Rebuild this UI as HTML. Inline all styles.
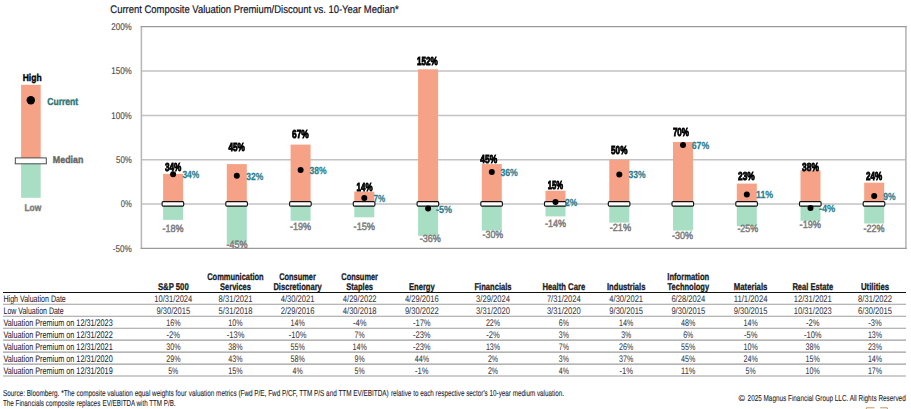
<!DOCTYPE html>
<html><head><meta charset="utf-8"><title>Composite Valuation</title>
<style>
html,body{margin:0;padding:0;background:#fff;}
body{width:911px;height:409px;overflow:hidden;font-family:"Liberation Sans",sans-serif;}
svg{display:block;font-family:"Liberation Sans",sans-serif;text-rendering:geometricPrecision;}
.ov{position:absolute;left:0;top:0;will-change:transform;}
</style></head><body>
<svg width="911" height="409" viewBox="0 0 911 409">
<rect x="0" y="0" width="911" height="409" fill="#fff"/>
<text x="110.3" y="12.9" font-size="11.0" fill="#16162a" textLength="288.3" lengthAdjust="spacingAndGlyphs" stroke="#16162a" stroke-width="0.2">Current Composite Valuation Premium/Discount vs. 10-Year Median*</text>
<line x1="141.6" x2="906" y1="71.1" y2="71.1" stroke="#c2c2c2" stroke-width="1.5"/>
<line x1="141.6" x2="906" y1="115.4" y2="115.4" stroke="#c2c2c2" stroke-width="1.5"/>
<line x1="141.6" x2="906" y1="159.7" y2="159.7" stroke="#c2c2c2" stroke-width="1.5"/>
<line x1="141.6" x2="906" y1="204.0" y2="204.0" stroke="#c2c2c2" stroke-width="1.5"/>
<line x1="141.4" x2="141.4" y1="26" y2="249" stroke="#b6b6b6" stroke-width="1.5"/>
<line x1="905.9" x2="905.9" y1="26" y2="249" stroke="#b6b6b6" stroke-width="1.6"/>
<line x1="140.7" x2="906.7" y1="26.55" y2="26.55" stroke="#9a9a9a" stroke-width="1.25"/>
<line x1="140.7" x2="906.7" y1="248.3" y2="248.3" stroke="#9a9a9a" stroke-width="1.25"/>
<text x="111.2" y="30.1" font-size="9.8" fill="#505050" textLength="20.6" lengthAdjust="spacingAndGlyphs" stroke="#505050" stroke-width="0.15">200%</text>
<text x="111.2" y="74.4" font-size="9.8" fill="#505050" textLength="20.6" lengthAdjust="spacingAndGlyphs" stroke="#505050" stroke-width="0.15">150%</text>
<text x="111.2" y="118.7" font-size="9.8" fill="#505050" textLength="20.6" lengthAdjust="spacingAndGlyphs" stroke="#505050" stroke-width="0.15">100%</text>
<text x="116.0" y="163.0" font-size="9.8" fill="#505050" textLength="15.8" lengthAdjust="spacingAndGlyphs" stroke="#505050" stroke-width="0.15">50%</text>
<text x="120.8" y="207.3" font-size="9.8" fill="#505050" textLength="11.0" lengthAdjust="spacingAndGlyphs" stroke="#505050" stroke-width="0.15">0%</text>
<text x="112.8" y="251.6" font-size="9.8" fill="#505050" textLength="19.0" lengthAdjust="spacingAndGlyphs" stroke="#505050" stroke-width="0.15">-50%</text>
<rect x="21.1" y="84.8" width="19.6" height="76" fill="#f5a286"/>
<rect x="21.1" y="160.8" width="19.6" height="37" fill="#a8dfc4"/>
<rect x="15.3" y="157.9" width="31" height="5.9" fill="#fff" stroke="#4a4a4a" stroke-width="1"/>
<circle cx="30.8" cy="100.3" r="4.2" fill="#000"/>
<text x="22.7" y="80.9" font-size="10.0" fill="#000" font-weight="bold" textLength="18.9" lengthAdjust="spacingAndGlyphs" stroke="#000" stroke-width="0.4">High</text>
<text x="47.3" y="104.6" font-size="10.2" fill="#2d7572" font-weight="bold" textLength="30.9" lengthAdjust="spacingAndGlyphs" stroke="#2d7572" stroke-width="0.4">Current</text>
<text x="52.8" y="163.4" font-size="10.0" fill="#666" font-weight="bold" textLength="30.6" lengthAdjust="spacingAndGlyphs" stroke="#666" stroke-width="0.4">Median</text>
<text x="24.4" y="210.8" font-size="10.0" fill="#7a7a7a" font-weight="bold" textLength="16.8" lengthAdjust="spacingAndGlyphs" stroke="#7a7a7a" stroke-width="0.4">Low</text>
<rect x="163.1" y="173.9" width="20.0" height="30.1" fill="#f5a286"/>
<rect x="163.1" y="204.0" width="20.0" height="15.9" fill="#a8dfc4"/>
<rect x="226.8" y="164.1" width="20.0" height="39.9" fill="#f5a286"/>
<rect x="226.8" y="204.0" width="20.0" height="39.9" fill="#a8dfc4"/>
<rect x="290.6" y="144.6" width="20.0" height="59.4" fill="#f5a286"/>
<rect x="290.6" y="204.0" width="20.0" height="16.8" fill="#a8dfc4"/>
<rect x="354.3" y="191.6" width="20.0" height="12.4" fill="#f5a286"/>
<rect x="354.3" y="204.0" width="20.0" height="13.3" fill="#a8dfc4"/>
<rect x="418.1" y="69.3" width="20.0" height="134.7" fill="#f5a286"/>
<rect x="418.1" y="204.0" width="20.0" height="31.9" fill="#a8dfc4"/>
<rect x="481.8" y="164.1" width="20.0" height="39.9" fill="#f5a286"/>
<rect x="481.8" y="204.0" width="20.0" height="26.6" fill="#a8dfc4"/>
<rect x="545.5" y="190.7" width="20.0" height="13.3" fill="#f5a286"/>
<rect x="545.5" y="204.0" width="20.0" height="12.4" fill="#a8dfc4"/>
<rect x="609.3" y="159.7" width="20.0" height="44.3" fill="#f5a286"/>
<rect x="609.3" y="204.0" width="20.0" height="18.6" fill="#a8dfc4"/>
<rect x="673.0" y="142.0" width="20.0" height="62.0" fill="#f5a286"/>
<rect x="673.0" y="204.0" width="20.0" height="26.6" fill="#a8dfc4"/>
<rect x="736.8" y="183.6" width="20.0" height="20.4" fill="#f5a286"/>
<rect x="736.8" y="204.0" width="20.0" height="22.2" fill="#a8dfc4"/>
<rect x="800.5" y="170.3" width="20.0" height="33.7" fill="#f5a286"/>
<rect x="800.5" y="204.0" width="20.0" height="16.8" fill="#a8dfc4"/>
<rect x="864.2" y="182.7" width="20.0" height="21.3" fill="#f5a286"/>
<rect x="864.2" y="204.0" width="20.0" height="19.5" fill="#a8dfc4"/>
<text x="162.5" y="232.0" font-size="10.4" fill="#7e7e7e" textLength="21.0" lengthAdjust="spacingAndGlyphs" stroke="#7e7e7e" stroke-width="0.5">-18%</text>
<text x="226.6" y="248.0" font-size="10.4" fill="#7e7e7e" textLength="21.0" lengthAdjust="spacingAndGlyphs" stroke="#7e7e7e" stroke-width="0.5">-45%</text>
<text x="290.0" y="230.0" font-size="10.4" fill="#7e7e7e" textLength="21.1" lengthAdjust="spacingAndGlyphs" stroke="#7e7e7e" stroke-width="0.5">-19%</text>
<text x="353.6" y="230.0" font-size="10.4" fill="#7e7e7e" textLength="21.4" lengthAdjust="spacingAndGlyphs" stroke="#7e7e7e" stroke-width="0.5">-15%</text>
<text x="419.7" y="242.0" font-size="10.4" fill="#7e7e7e" textLength="21.0" lengthAdjust="spacingAndGlyphs" stroke="#7e7e7e" stroke-width="0.5">-36%</text>
<text x="482.6" y="238.0" font-size="10.4" fill="#7e7e7e" textLength="20.5" lengthAdjust="spacingAndGlyphs" stroke="#7e7e7e" stroke-width="0.5">-30%</text>
<text x="545.0" y="227.0" font-size="10.4" fill="#7e7e7e" textLength="21.0" lengthAdjust="spacingAndGlyphs" stroke="#7e7e7e" stroke-width="0.5">-14%</text>
<text x="609.7" y="231.0" font-size="10.4" fill="#7e7e7e" textLength="21.4" lengthAdjust="spacingAndGlyphs" stroke="#7e7e7e" stroke-width="0.5">-21%</text>
<text x="672.1" y="239.0" font-size="10.4" fill="#7e7e7e" textLength="21.0" lengthAdjust="spacingAndGlyphs" stroke="#7e7e7e" stroke-width="0.5">-30%</text>
<text x="737.4" y="232.0" font-size="10.4" fill="#7e7e7e" textLength="20.7" lengthAdjust="spacingAndGlyphs" stroke="#7e7e7e" stroke-width="0.5">-25%</text>
<text x="799.6" y="228.0" font-size="10.4" fill="#7e7e7e" textLength="21.4" lengthAdjust="spacingAndGlyphs" stroke="#7e7e7e" stroke-width="0.5">-19%</text>
<text x="863.6" y="232.0" font-size="10.4" fill="#7e7e7e" textLength="21.0" lengthAdjust="spacingAndGlyphs" stroke="#7e7e7e" stroke-width="0.5">-22%</text>
<rect x="162.1" y="201.6" width="21.6" height="4.5" rx="1.1" ry="1.1" fill="#fff" stroke="#111" stroke-width="1.15"/>
<rect x="225.8" y="201.6" width="21.6" height="4.5" rx="1.1" ry="1.1" fill="#fff" stroke="#111" stroke-width="1.15"/>
<rect x="289.6" y="201.6" width="21.6" height="4.5" rx="1.1" ry="1.1" fill="#fff" stroke="#111" stroke-width="1.15"/>
<rect x="353.3" y="201.6" width="21.6" height="4.5" rx="1.1" ry="1.1" fill="#fff" stroke="#111" stroke-width="1.15"/>
<rect x="417.1" y="201.6" width="21.6" height="4.5" rx="1.1" ry="1.1" fill="#fff" stroke="#111" stroke-width="1.15"/>
<rect x="480.8" y="201.6" width="21.6" height="4.5" rx="1.1" ry="1.1" fill="#fff" stroke="#111" stroke-width="1.15"/>
<rect x="544.5" y="201.6" width="21.6" height="4.5" rx="1.1" ry="1.1" fill="#fff" stroke="#111" stroke-width="1.15"/>
<rect x="608.3" y="201.6" width="21.6" height="4.5" rx="1.1" ry="1.1" fill="#fff" stroke="#111" stroke-width="1.15"/>
<rect x="672.0" y="201.6" width="21.6" height="4.5" rx="1.1" ry="1.1" fill="#fff" stroke="#111" stroke-width="1.15"/>
<rect x="735.8" y="201.6" width="21.6" height="4.5" rx="1.1" ry="1.1" fill="#fff" stroke="#111" stroke-width="1.15"/>
<rect x="799.5" y="201.6" width="21.6" height="4.5" rx="1.1" ry="1.1" fill="#fff" stroke="#111" stroke-width="1.15"/>
<rect x="863.2" y="201.6" width="21.6" height="4.5" rx="1.1" ry="1.1" fill="#fff" stroke="#111" stroke-width="1.15"/>
<text x="182.4" y="178.0" font-size="10.3" fill="#2c7f90" font-weight="bold" textLength="16.9" lengthAdjust="spacingAndGlyphs" stroke="#2c7f90" stroke-width="0.25">34%</text>
<circle cx="173.1" cy="174.3" r="3" fill="#000"/>
<text x="246.3" y="180.0" font-size="10.3" fill="#2c7f90" font-weight="bold" textLength="17.0" lengthAdjust="spacingAndGlyphs" stroke="#2c7f90" stroke-width="0.25">32%</text>
<circle cx="236.8" cy="175.8" r="3" fill="#000"/>
<text x="309.6" y="174.0" font-size="10.3" fill="#2c7f90" font-weight="bold" textLength="17.1" lengthAdjust="spacingAndGlyphs" stroke="#2c7f90" stroke-width="0.25">38%</text>
<circle cx="300.6" cy="170.1" r="3" fill="#000"/>
<text x="373.5" y="202.0" font-size="10.3" fill="#2c7f90" font-weight="bold" textLength="11.7" lengthAdjust="spacingAndGlyphs" stroke="#2c7f90" stroke-width="0.25">7%</text>
<circle cx="364.3" cy="198.0" r="3" fill="#000"/>
<text x="436.1" y="213.0" font-size="10.3" fill="#2c7f90" font-weight="bold" textLength="16.0" lengthAdjust="spacingAndGlyphs" stroke="#2c7f90" stroke-width="0.25">-5%</text>
<circle cx="428.1" cy="208.6" r="3" fill="#000"/>
<text x="500.4" y="176.0" font-size="10.3" fill="#2c7f90" font-weight="bold" textLength="17.4" lengthAdjust="spacingAndGlyphs" stroke="#2c7f90" stroke-width="0.25">36%</text>
<circle cx="491.8" cy="172.0" r="3" fill="#000"/>
<text x="565.0" y="206.0" font-size="10.3" fill="#2c7f90" font-weight="bold" textLength="12.2" lengthAdjust="spacingAndGlyphs" stroke="#2c7f90" stroke-width="0.25">2%</text>
<circle cx="555.5" cy="202.1" r="3" fill="#000"/>
<text x="628.5" y="178.0" font-size="10.3" fill="#2c7f90" font-weight="bold" textLength="17.1" lengthAdjust="spacingAndGlyphs" stroke="#2c7f90" stroke-width="0.25">33%</text>
<circle cx="619.3" cy="174.4" r="3" fill="#000"/>
<text x="691.7" y="149.0" font-size="10.3" fill="#2c7f90" font-weight="bold" textLength="17.6" lengthAdjust="spacingAndGlyphs" stroke="#2c7f90" stroke-width="0.25">67%</text>
<circle cx="683.0" cy="145.0" r="3" fill="#000"/>
<text x="756.0" y="198.0" font-size="10.3" fill="#2c7f90" font-weight="bold" textLength="17.2" lengthAdjust="spacingAndGlyphs" stroke="#2c7f90" stroke-width="0.25">11%</text>
<circle cx="746.8" cy="194.6" r="3" fill="#000"/>
<text x="818.9" y="212.0" font-size="10.3" fill="#2c7f90" font-weight="bold" textLength="16.4" lengthAdjust="spacingAndGlyphs" stroke="#2c7f90" stroke-width="0.25">-4%</text>
<circle cx="810.5" cy="208.0" r="3" fill="#000"/>
<text x="883.2" y="200.0" font-size="10.3" fill="#2c7f90" font-weight="bold" textLength="12.4" lengthAdjust="spacingAndGlyphs" stroke="#2c7f90" stroke-width="0.25">9%</text>
<circle cx="874.2" cy="196.0" r="3" fill="#000"/>
<text x="157.9" y="290.2" font-size="9.8" fill="#1a1a22" font-weight="bold" textLength="30.8" lengthAdjust="spacingAndGlyphs" stroke="#1a1a22" stroke-width="0.3">S&amp;P 500</text>
<text x="207.2" y="280.0" font-size="9.8" fill="#1a1a22" font-weight="bold" textLength="56.5" lengthAdjust="spacingAndGlyphs" stroke="#1a1a22" stroke-width="0.3">Communication</text>
<text x="220.1" y="290.2" font-size="9.8" fill="#1a1a22" font-weight="bold" textLength="30.8" lengthAdjust="spacingAndGlyphs" stroke="#1a1a22" stroke-width="0.3">Services</text>
<text x="279.2" y="280.0" font-size="9.8" fill="#1a1a22" font-weight="bold" textLength="36.7" lengthAdjust="spacingAndGlyphs" stroke="#1a1a22" stroke-width="0.3">Consumer</text>
<text x="273.4" y="290.2" font-size="9.8" fill="#1a1a22" font-weight="bold" textLength="48.4" lengthAdjust="spacingAndGlyphs" stroke="#1a1a22" stroke-width="0.3">Discretionary</text>
<text x="341.3" y="280.0" font-size="9.8" fill="#1a1a22" font-weight="bold" textLength="36.7" lengthAdjust="spacingAndGlyphs" stroke="#1a1a22" stroke-width="0.3">Consumer</text>
<text x="346.3" y="290.2" font-size="9.8" fill="#1a1a22" font-weight="bold" textLength="26.7" lengthAdjust="spacingAndGlyphs" stroke="#1a1a22" stroke-width="0.3">Staples</text>
<text x="408.9" y="290.2" font-size="9.8" fill="#1a1a22" font-weight="bold" textLength="25.9" lengthAdjust="spacingAndGlyphs" stroke="#1a1a22" stroke-width="0.3">Energy</text>
<text x="474.5" y="290.2" font-size="9.8" fill="#1a1a22" font-weight="bold" textLength="37.0" lengthAdjust="spacingAndGlyphs" stroke="#1a1a22" stroke-width="0.3">Financials</text>
<text x="542.4" y="290.2" font-size="9.8" fill="#1a1a22" font-weight="bold" textLength="42.8" lengthAdjust="spacingAndGlyphs" stroke="#1a1a22" stroke-width="0.3">Health Care</text>
<text x="607.0" y="290.2" font-size="9.8" fill="#1a1a22" font-weight="bold" textLength="38.4" lengthAdjust="spacingAndGlyphs" stroke="#1a1a22" stroke-width="0.3">Industrials</text>
<text x="667.3" y="280.0" font-size="9.8" fill="#1a1a22" font-weight="bold" textLength="41.9" lengthAdjust="spacingAndGlyphs" stroke="#1a1a22" stroke-width="0.3">Information</text>
<text x="667.5" y="290.2" font-size="9.8" fill="#1a1a22" font-weight="bold" textLength="41.6" lengthAdjust="spacingAndGlyphs" stroke="#1a1a22" stroke-width="0.3">Technology</text>
<text x="733.8" y="290.2" font-size="9.8" fill="#1a1a22" font-weight="bold" textLength="33.6" lengthAdjust="spacingAndGlyphs" stroke="#1a1a22" stroke-width="0.3">Materials</text>
<text x="792.4" y="290.2" font-size="9.8" fill="#1a1a22" font-weight="bold" textLength="40.8" lengthAdjust="spacingAndGlyphs" stroke="#1a1a22" stroke-width="0.3">Real Estate</text>
<text x="860.9" y="290.2" font-size="9.8" fill="#1a1a22" font-weight="bold" textLength="28.2" lengthAdjust="spacingAndGlyphs" stroke="#1a1a22" stroke-width="0.3">Utilities</text>
<line x1="3" x2="906" y1="292.5" y2="292.5" stroke="#111" stroke-width="1.15"/>
<text x="3.5" y="302.1" font-size="9.5" fill="#222236" textLength="62.3" lengthAdjust="spacingAndGlyphs" stroke="#222236" stroke-width="0.06">High Valuation Date</text>
<text x="154.3" y="302.1" font-size="9.5" fill="#3a3a44" textLength="38.0" lengthAdjust="spacingAndGlyphs" stroke="#3a3a44" stroke-width="0.06">10/31/2024</text>
<text x="218.6" y="302.1" font-size="9.5" fill="#3a3a44" textLength="33.8" lengthAdjust="spacingAndGlyphs" stroke="#3a3a44" stroke-width="0.06">8/31/2021</text>
<text x="280.7" y="302.1" font-size="9.5" fill="#3a3a44" textLength="33.8" lengthAdjust="spacingAndGlyphs" stroke="#3a3a44" stroke-width="0.06">4/30/2021</text>
<text x="342.8" y="302.1" font-size="9.5" fill="#3a3a44" textLength="33.8" lengthAdjust="spacingAndGlyphs" stroke="#3a3a44" stroke-width="0.06">4/29/2022</text>
<text x="404.9" y="302.1" font-size="9.5" fill="#3a3a44" textLength="33.8" lengthAdjust="spacingAndGlyphs" stroke="#3a3a44" stroke-width="0.06">4/29/2016</text>
<text x="476.1" y="302.1" font-size="9.5" fill="#3a3a44" textLength="33.8" lengthAdjust="spacingAndGlyphs" stroke="#3a3a44" stroke-width="0.06">3/29/2024</text>
<text x="546.9" y="302.1" font-size="9.5" fill="#3a3a44" textLength="33.8" lengthAdjust="spacingAndGlyphs" stroke="#3a3a44" stroke-width="0.06">7/31/2024</text>
<text x="609.3" y="302.1" font-size="9.5" fill="#3a3a44" textLength="33.8" lengthAdjust="spacingAndGlyphs" stroke="#3a3a44" stroke-width="0.06">4/30/2021</text>
<text x="671.4" y="302.1" font-size="9.5" fill="#3a3a44" textLength="33.8" lengthAdjust="spacingAndGlyphs" stroke="#3a3a44" stroke-width="0.06">6/28/2024</text>
<text x="733.7" y="302.1" font-size="9.5" fill="#3a3a44" textLength="33.8" lengthAdjust="spacingAndGlyphs" stroke="#3a3a44" stroke-width="0.06">11/1/2024</text>
<text x="793.8" y="302.1" font-size="9.5" fill="#3a3a44" textLength="38.0" lengthAdjust="spacingAndGlyphs" stroke="#3a3a44" stroke-width="0.06">12/31/2021</text>
<text x="858.1" y="302.1" font-size="9.5" fill="#3a3a44" textLength="33.8" lengthAdjust="spacingAndGlyphs" stroke="#3a3a44" stroke-width="0.06">8/31/2022</text>
<line x1="3" x2="906" y1="304.3" y2="304.3" stroke="#9e9e9e" stroke-width="1.05"/>
<text x="3.5" y="314.1" font-size="9.5" fill="#222236" textLength="60.2" lengthAdjust="spacingAndGlyphs" stroke="#222236" stroke-width="0.06">Low Valuation Date</text>
<text x="156.4" y="314.1" font-size="9.5" fill="#3a3a44" textLength="33.8" lengthAdjust="spacingAndGlyphs" stroke="#3a3a44" stroke-width="0.06">9/30/2015</text>
<text x="218.6" y="314.1" font-size="9.5" fill="#3a3a44" textLength="33.8" lengthAdjust="spacingAndGlyphs" stroke="#3a3a44" stroke-width="0.06">5/31/2018</text>
<text x="280.7" y="314.1" font-size="9.5" fill="#3a3a44" textLength="33.8" lengthAdjust="spacingAndGlyphs" stroke="#3a3a44" stroke-width="0.06">2/29/2016</text>
<text x="342.8" y="314.1" font-size="9.5" fill="#3a3a44" textLength="33.8" lengthAdjust="spacingAndGlyphs" stroke="#3a3a44" stroke-width="0.06">4/30/2018</text>
<text x="404.9" y="314.1" font-size="9.5" fill="#3a3a44" textLength="33.8" lengthAdjust="spacingAndGlyphs" stroke="#3a3a44" stroke-width="0.06">9/30/2022</text>
<text x="476.1" y="314.1" font-size="9.5" fill="#3a3a44" textLength="33.8" lengthAdjust="spacingAndGlyphs" stroke="#3a3a44" stroke-width="0.06">3/31/2020</text>
<text x="546.9" y="314.1" font-size="9.5" fill="#3a3a44" textLength="33.8" lengthAdjust="spacingAndGlyphs" stroke="#3a3a44" stroke-width="0.06">3/31/2020</text>
<text x="609.3" y="314.1" font-size="9.5" fill="#3a3a44" textLength="33.8" lengthAdjust="spacingAndGlyphs" stroke="#3a3a44" stroke-width="0.06">9/30/2015</text>
<text x="671.4" y="314.1" font-size="9.5" fill="#3a3a44" textLength="33.8" lengthAdjust="spacingAndGlyphs" stroke="#3a3a44" stroke-width="0.06">9/30/2015</text>
<text x="733.7" y="314.1" font-size="9.5" fill="#3a3a44" textLength="33.8" lengthAdjust="spacingAndGlyphs" stroke="#3a3a44" stroke-width="0.06">9/30/2015</text>
<text x="793.8" y="314.1" font-size="9.5" fill="#3a3a44" textLength="38.0" lengthAdjust="spacingAndGlyphs" stroke="#3a3a44" stroke-width="0.06">10/31/2023</text>
<text x="858.1" y="314.1" font-size="9.5" fill="#3a3a44" textLength="33.8" lengthAdjust="spacingAndGlyphs" stroke="#3a3a44" stroke-width="0.06">6/30/2015</text>
<line x1="3" x2="906" y1="316.2" y2="316.2" stroke="#9e9e9e" stroke-width="1.05"/>
<text x="3.5" y="326.0" font-size="9.5" fill="#222236" textLength="109.2" lengthAdjust="spacingAndGlyphs" stroke="#222236" stroke-width="0.06">Valuation Premium on 12/31/2023</text>
<text x="166.2" y="326.0" font-size="9.5" fill="#3a3a44" textLength="14.3" lengthAdjust="spacingAndGlyphs" stroke="#3a3a44" stroke-width="0.06">16%</text>
<text x="228.3" y="326.0" font-size="9.5" fill="#3a3a44" textLength="14.3" lengthAdjust="spacingAndGlyphs" stroke="#3a3a44" stroke-width="0.06">10%</text>
<text x="290.5" y="326.0" font-size="9.5" fill="#3a3a44" textLength="14.3" lengthAdjust="spacingAndGlyphs" stroke="#3a3a44" stroke-width="0.06">14%</text>
<text x="352.9" y="326.0" font-size="9.5" fill="#3a3a44" textLength="13.5" lengthAdjust="spacingAndGlyphs" stroke="#3a3a44" stroke-width="0.06">-4%</text>
<text x="412.9" y="326.0" font-size="9.5" fill="#3a3a44" textLength="17.7" lengthAdjust="spacingAndGlyphs" stroke="#3a3a44" stroke-width="0.06">-17%</text>
<text x="485.9" y="326.0" font-size="9.5" fill="#3a3a44" textLength="14.3" lengthAdjust="spacingAndGlyphs" stroke="#3a3a44" stroke-width="0.06">22%</text>
<text x="558.8" y="326.0" font-size="9.5" fill="#3a3a44" textLength="10.1" lengthAdjust="spacingAndGlyphs" stroke="#3a3a44" stroke-width="0.06">6%</text>
<text x="619.1" y="326.0" font-size="9.5" fill="#3a3a44" textLength="14.3" lengthAdjust="spacingAndGlyphs" stroke="#3a3a44" stroke-width="0.06">14%</text>
<text x="681.1" y="326.0" font-size="9.5" fill="#3a3a44" textLength="14.3" lengthAdjust="spacingAndGlyphs" stroke="#3a3a44" stroke-width="0.06">48%</text>
<text x="743.5" y="326.0" font-size="9.5" fill="#3a3a44" textLength="14.3" lengthAdjust="spacingAndGlyphs" stroke="#3a3a44" stroke-width="0.06">14%</text>
<text x="806.0" y="326.0" font-size="9.5" fill="#3a3a44" textLength="13.5" lengthAdjust="spacingAndGlyphs" stroke="#3a3a44" stroke-width="0.06">-2%</text>
<text x="868.2" y="326.0" font-size="9.5" fill="#3a3a44" textLength="13.5" lengthAdjust="spacingAndGlyphs" stroke="#3a3a44" stroke-width="0.06">-3%</text>
<line x1="3" x2="906" y1="328.2" y2="328.2" stroke="#9e9e9e" stroke-width="1.05"/>
<text x="3.5" y="338.0" font-size="9.5" fill="#222236" textLength="109.2" lengthAdjust="spacingAndGlyphs" stroke="#222236" stroke-width="0.06">Valuation Premium on 12/31/2022</text>
<text x="166.6" y="338.0" font-size="9.5" fill="#3a3a44" textLength="13.5" lengthAdjust="spacingAndGlyphs" stroke="#3a3a44" stroke-width="0.06">-2%</text>
<text x="226.7" y="338.0" font-size="9.5" fill="#3a3a44" textLength="17.7" lengthAdjust="spacingAndGlyphs" stroke="#3a3a44" stroke-width="0.06">-13%</text>
<text x="288.8" y="338.0" font-size="9.5" fill="#3a3a44" textLength="17.7" lengthAdjust="spacingAndGlyphs" stroke="#3a3a44" stroke-width="0.06">-10%</text>
<text x="354.6" y="338.0" font-size="9.5" fill="#3a3a44" textLength="10.1" lengthAdjust="spacingAndGlyphs" stroke="#3a3a44" stroke-width="0.06">7%</text>
<text x="412.9" y="338.0" font-size="9.5" fill="#3a3a44" textLength="17.7" lengthAdjust="spacingAndGlyphs" stroke="#3a3a44" stroke-width="0.06">-23%</text>
<text x="486.2" y="338.0" font-size="9.5" fill="#3a3a44" textLength="13.5" lengthAdjust="spacingAndGlyphs" stroke="#3a3a44" stroke-width="0.06">-2%</text>
<text x="558.8" y="338.0" font-size="9.5" fill="#3a3a44" textLength="10.1" lengthAdjust="spacingAndGlyphs" stroke="#3a3a44" stroke-width="0.06">3%</text>
<text x="621.2" y="338.0" font-size="9.5" fill="#3a3a44" textLength="10.1" lengthAdjust="spacingAndGlyphs" stroke="#3a3a44" stroke-width="0.06">3%</text>
<text x="683.2" y="338.0" font-size="9.5" fill="#3a3a44" textLength="10.1" lengthAdjust="spacingAndGlyphs" stroke="#3a3a44" stroke-width="0.06">6%</text>
<text x="743.9" y="338.0" font-size="9.5" fill="#3a3a44" textLength="13.5" lengthAdjust="spacingAndGlyphs" stroke="#3a3a44" stroke-width="0.06">-5%</text>
<text x="803.9" y="338.0" font-size="9.5" fill="#3a3a44" textLength="17.7" lengthAdjust="spacingAndGlyphs" stroke="#3a3a44" stroke-width="0.06">-10%</text>
<text x="867.9" y="338.0" font-size="9.5" fill="#3a3a44" textLength="14.3" lengthAdjust="spacingAndGlyphs" stroke="#3a3a44" stroke-width="0.06">13%</text>
<line x1="3" x2="906" y1="340.1" y2="340.1" stroke="#9e9e9e" stroke-width="1.05"/>
<text x="3.5" y="349.9" font-size="9.5" fill="#222236" textLength="109.2" lengthAdjust="spacingAndGlyphs" stroke="#222236" stroke-width="0.06">Valuation Premium on 12/31/2021</text>
<text x="166.2" y="349.9" font-size="9.5" fill="#3a3a44" textLength="14.3" lengthAdjust="spacingAndGlyphs" stroke="#3a3a44" stroke-width="0.06">30%</text>
<text x="228.3" y="349.9" font-size="9.5" fill="#3a3a44" textLength="14.3" lengthAdjust="spacingAndGlyphs" stroke="#3a3a44" stroke-width="0.06">38%</text>
<text x="290.5" y="349.9" font-size="9.5" fill="#3a3a44" textLength="14.3" lengthAdjust="spacingAndGlyphs" stroke="#3a3a44" stroke-width="0.06">55%</text>
<text x="352.6" y="349.9" font-size="9.5" fill="#3a3a44" textLength="14.3" lengthAdjust="spacingAndGlyphs" stroke="#3a3a44" stroke-width="0.06">14%</text>
<text x="412.9" y="349.9" font-size="9.5" fill="#3a3a44" textLength="17.7" lengthAdjust="spacingAndGlyphs" stroke="#3a3a44" stroke-width="0.06">-23%</text>
<text x="485.9" y="349.9" font-size="9.5" fill="#3a3a44" textLength="14.3" lengthAdjust="spacingAndGlyphs" stroke="#3a3a44" stroke-width="0.06">13%</text>
<text x="558.8" y="349.9" font-size="9.5" fill="#3a3a44" textLength="10.1" lengthAdjust="spacingAndGlyphs" stroke="#3a3a44" stroke-width="0.06">7%</text>
<text x="619.1" y="349.9" font-size="9.5" fill="#3a3a44" textLength="14.3" lengthAdjust="spacingAndGlyphs" stroke="#3a3a44" stroke-width="0.06">26%</text>
<text x="681.1" y="349.9" font-size="9.5" fill="#3a3a44" textLength="14.3" lengthAdjust="spacingAndGlyphs" stroke="#3a3a44" stroke-width="0.06">55%</text>
<text x="743.5" y="349.9" font-size="9.5" fill="#3a3a44" textLength="14.3" lengthAdjust="spacingAndGlyphs" stroke="#3a3a44" stroke-width="0.06">10%</text>
<text x="805.6" y="349.9" font-size="9.5" fill="#3a3a44" textLength="14.3" lengthAdjust="spacingAndGlyphs" stroke="#3a3a44" stroke-width="0.06">38%</text>
<text x="867.9" y="349.9" font-size="9.5" fill="#3a3a44" textLength="14.3" lengthAdjust="spacingAndGlyphs" stroke="#3a3a44" stroke-width="0.06">23%</text>
<line x1="3" x2="906" y1="352.1" y2="352.1" stroke="#9e9e9e" stroke-width="1.05"/>
<text x="3.5" y="361.9" font-size="9.5" fill="#222236" textLength="109.2" lengthAdjust="spacingAndGlyphs" stroke="#222236" stroke-width="0.06">Valuation Premium on 12/31/2020</text>
<text x="166.2" y="361.9" font-size="9.5" fill="#3a3a44" textLength="14.3" lengthAdjust="spacingAndGlyphs" stroke="#3a3a44" stroke-width="0.06">29%</text>
<text x="228.3" y="361.9" font-size="9.5" fill="#3a3a44" textLength="14.3" lengthAdjust="spacingAndGlyphs" stroke="#3a3a44" stroke-width="0.06">43%</text>
<text x="290.5" y="361.9" font-size="9.5" fill="#3a3a44" textLength="14.3" lengthAdjust="spacingAndGlyphs" stroke="#3a3a44" stroke-width="0.06">58%</text>
<text x="354.6" y="361.9" font-size="9.5" fill="#3a3a44" textLength="10.1" lengthAdjust="spacingAndGlyphs" stroke="#3a3a44" stroke-width="0.06">9%</text>
<text x="414.7" y="361.9" font-size="9.5" fill="#3a3a44" textLength="14.3" lengthAdjust="spacingAndGlyphs" stroke="#3a3a44" stroke-width="0.06">44%</text>
<text x="487.9" y="361.9" font-size="9.5" fill="#3a3a44" textLength="10.1" lengthAdjust="spacingAndGlyphs" stroke="#3a3a44" stroke-width="0.06">2%</text>
<text x="558.8" y="361.9" font-size="9.5" fill="#3a3a44" textLength="10.1" lengthAdjust="spacingAndGlyphs" stroke="#3a3a44" stroke-width="0.06">3%</text>
<text x="619.1" y="361.9" font-size="9.5" fill="#3a3a44" textLength="14.3" lengthAdjust="spacingAndGlyphs" stroke="#3a3a44" stroke-width="0.06">37%</text>
<text x="681.1" y="361.9" font-size="9.5" fill="#3a3a44" textLength="14.3" lengthAdjust="spacingAndGlyphs" stroke="#3a3a44" stroke-width="0.06">45%</text>
<text x="743.5" y="361.9" font-size="9.5" fill="#3a3a44" textLength="14.3" lengthAdjust="spacingAndGlyphs" stroke="#3a3a44" stroke-width="0.06">24%</text>
<text x="805.6" y="361.9" font-size="9.5" fill="#3a3a44" textLength="14.3" lengthAdjust="spacingAndGlyphs" stroke="#3a3a44" stroke-width="0.06">15%</text>
<text x="867.9" y="361.9" font-size="9.5" fill="#3a3a44" textLength="14.3" lengthAdjust="spacingAndGlyphs" stroke="#3a3a44" stroke-width="0.06">14%</text>
<line x1="3" x2="906" y1="364.1" y2="364.1" stroke="#9e9e9e" stroke-width="1.05"/>
<text x="3.5" y="373.8" font-size="9.5" fill="#222236" textLength="109.2" lengthAdjust="spacingAndGlyphs" stroke="#222236" stroke-width="0.06">Valuation Premium on 12/31/2019</text>
<text x="168.2" y="373.8" font-size="9.5" fill="#3a3a44" textLength="10.1" lengthAdjust="spacingAndGlyphs" stroke="#3a3a44" stroke-width="0.06">5%</text>
<text x="228.3" y="373.8" font-size="9.5" fill="#3a3a44" textLength="14.3" lengthAdjust="spacingAndGlyphs" stroke="#3a3a44" stroke-width="0.06">15%</text>
<text x="292.6" y="373.8" font-size="9.5" fill="#3a3a44" textLength="10.1" lengthAdjust="spacingAndGlyphs" stroke="#3a3a44" stroke-width="0.06">4%</text>
<text x="354.6" y="373.8" font-size="9.5" fill="#3a3a44" textLength="10.1" lengthAdjust="spacingAndGlyphs" stroke="#3a3a44" stroke-width="0.06">5%</text>
<text x="415.1" y="373.8" font-size="9.5" fill="#3a3a44" textLength="13.5" lengthAdjust="spacingAndGlyphs" stroke="#3a3a44" stroke-width="0.06">-1%</text>
<text x="487.9" y="373.8" font-size="9.5" fill="#3a3a44" textLength="10.1" lengthAdjust="spacingAndGlyphs" stroke="#3a3a44" stroke-width="0.06">2%</text>
<text x="558.8" y="373.8" font-size="9.5" fill="#3a3a44" textLength="10.1" lengthAdjust="spacingAndGlyphs" stroke="#3a3a44" stroke-width="0.06">4%</text>
<text x="619.5" y="373.8" font-size="9.5" fill="#3a3a44" textLength="13.5" lengthAdjust="spacingAndGlyphs" stroke="#3a3a44" stroke-width="0.06">-1%</text>
<text x="681.1" y="373.8" font-size="9.5" fill="#3a3a44" textLength="14.3" lengthAdjust="spacingAndGlyphs" stroke="#3a3a44" stroke-width="0.06">11%</text>
<text x="745.6" y="373.8" font-size="9.5" fill="#3a3a44" textLength="10.1" lengthAdjust="spacingAndGlyphs" stroke="#3a3a44" stroke-width="0.06">5%</text>
<text x="805.6" y="373.8" font-size="9.5" fill="#3a3a44" textLength="14.3" lengthAdjust="spacingAndGlyphs" stroke="#3a3a44" stroke-width="0.06">10%</text>
<text x="867.9" y="373.8" font-size="9.5" fill="#3a3a44" textLength="14.3" lengthAdjust="spacingAndGlyphs" stroke="#3a3a44" stroke-width="0.06">17%</text>
<line x1="3" x2="906" y1="376.0" y2="376.0" stroke="#9e9e9e" stroke-width="1.05"/>
<text x="2.9" y="396.1" font-size="8.6" fill="#26262e" textLength="183.7" lengthAdjust="spacingAndGlyphs" stroke="#26262e" stroke-width="0.1">Source: Bloomberg. *The composite valuation equal weights four</text>
<text x="188.8" y="396.1" font-size="8.6" fill="#26262e" textLength="199.9" lengthAdjust="spacingAndGlyphs" stroke="#26262e" stroke-width="0.1">valuation metrics (Fwd P/E, Fwd P/CF, TTM P/S and TTM EV/EBITDA)</text>
<text x="391.0" y="396.1" font-size="8.6" fill="#26262e" textLength="173.0" lengthAdjust="spacingAndGlyphs" stroke="#26262e" stroke-width="0.1">relative to each respective sector's 10-year medium valuation.</text>
<text x="2.9" y="405.7" font-size="8.6" fill="#26262e" textLength="97.4" lengthAdjust="spacingAndGlyphs" stroke="#26262e" stroke-width="0.1">The Financials composite replaces</text>
<text x="102.5" y="405.7" font-size="8.6" fill="#26262e" textLength="73.1" lengthAdjust="spacingAndGlyphs" stroke="#26262e" stroke-width="0.1">EV/EBITDA with TTM P/B.</text>
<text x="738.6" y="401.0" font-size="8.6" fill="#26262e" textLength="6.5" lengthAdjust="spacingAndGlyphs" stroke="#26262e" stroke-width="0.1">©</text>
<text x="747.6" y="401.0" font-size="8.6" fill="#26262e" textLength="158.1" lengthAdjust="spacingAndGlyphs" stroke="#26262e" stroke-width="0.1">2025 Magnus Financial Group LLC. All Rights Reserved</text>
<path d="M866.3 409 V407.8 H874.5 M880.2 407.8 H887.4 V409" fill="none" stroke="#b89a6a" stroke-width="1"/>
</svg>
<svg class="ov" width="911" height="409" viewBox="0 0 911 409">
<text x="165.0" y="171.0" font-size="11.6" fill="#000" font-weight="bold" textLength="16.4" lengthAdjust="spacingAndGlyphs" stroke="#000" stroke-width="0.9" >34%</text>
<text x="228.5" y="151.0" font-size="11.6" fill="#000" font-weight="bold" textLength="16.4" lengthAdjust="spacingAndGlyphs" stroke="#000" stroke-width="0.9" >45%</text>
<text x="292.1" y="138.0" font-size="11.6" fill="#000" font-weight="bold" textLength="16.7" lengthAdjust="spacingAndGlyphs" stroke="#000" stroke-width="0.9" >67%</text>
<text x="356.6" y="191.0" font-size="11.6" fill="#000" font-weight="bold" textLength="15.9" lengthAdjust="spacingAndGlyphs" stroke="#000" stroke-width="0.9" >14%</text>
<text x="417.1" y="65.0" font-size="11.6" fill="#000" font-weight="bold" textLength="20.7" lengthAdjust="spacingAndGlyphs" stroke="#000" stroke-width="0.9" >152%</text>
<text x="480.3" y="163.0" font-size="11.6" fill="#000" font-weight="bold" textLength="16.8" lengthAdjust="spacingAndGlyphs" stroke="#000" stroke-width="0.9" >45%</text>
<text x="547.8" y="189.0" font-size="11.6" fill="#000" font-weight="bold" textLength="15.3" lengthAdjust="spacingAndGlyphs" stroke="#000" stroke-width="0.9" >15%</text>
<text x="611.1" y="154.0" font-size="11.6" fill="#000" font-weight="bold" textLength="16.3" lengthAdjust="spacingAndGlyphs" stroke="#000" stroke-width="0.9" >50%</text>
<text x="672.9" y="136.0" font-size="11.6" fill="#000" font-weight="bold" textLength="16.1" lengthAdjust="spacingAndGlyphs" stroke="#000" stroke-width="0.9" >70%</text>
<text x="738.1" y="180.0" font-size="11.6" fill="#000" font-weight="bold" textLength="16.6" lengthAdjust="spacingAndGlyphs" stroke="#000" stroke-width="0.9" >23%</text>
<text x="802.1" y="171.0" font-size="11.6" fill="#000" font-weight="bold" textLength="16.8" lengthAdjust="spacingAndGlyphs" stroke="#000" stroke-width="0.9" >38%</text>
<text x="866.0" y="180.0" font-size="11.6" fill="#000" font-weight="bold" textLength="16.1" lengthAdjust="spacingAndGlyphs" stroke="#000" stroke-width="0.9" >24%</text>
</svg>
</body></html>
